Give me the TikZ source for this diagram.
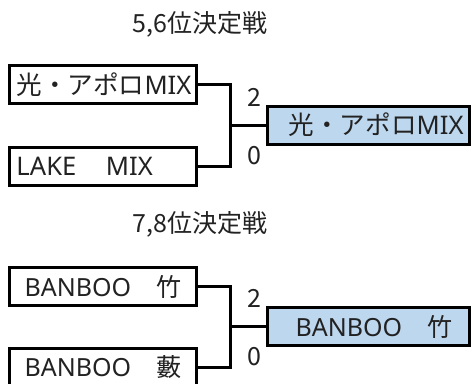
\documentclass[tikz,border=0pt]{standalone}
\usepackage{fontspec}
\setmainfont{Noto Sans}
\newfontfamily\jp{Noto Sans CJK JP}
\definecolor{winfill}{HTML}{BDD7EE}
\definecolor{ink}{HTML}{222222}
\begin{document}
\begin{tikzpicture}[x=1pt,y=-1pt,
  every node/.style={text=ink,font=\fontsize{25}{28}\selectfont},
  team/.style={draw=black,line width=3pt,minimum height=38pt,inner xsep=6pt,inner ysep=0pt,text width=175pt},
  winner/.style={team,fill=winfill,text width=190pt},
  big/.style={font=\fontsize{25.6}{28}\selectfont},
  wire/.style={draw=black,line width=3pt},
  title/.style={font=\jp\fontsize{25}{28}\selectfont},
  score/.style={inner sep=0pt,font=\jp\fontsize{25}{28}\selectfont}]
\clip (0,0) rectangle (473,383);
\fill[white] (0,0) rectangle (473,383);
% 5,6
\node[title] (t1) at (200,24) {5,6位決定戦};
\node[team,big,align=left] (a1) at (103,84.5) {\hspace*{1pt}{\jp 光・アポロ}MIX};
\node[team,big,align=left] (a2) at (103,166) {\hspace*{1pt}LAKE{\jp 　}\hspace{4pt}MIX};
\node[winner,big,align=right] (w1) at (368.5,125) {{\jp 光・アポロ}MIX};
\coordinate (j1) at (230,125);
\draw[wire] (a1.east) -| (j1) |- (a2.east);
\draw[wire] (j1) -- (w1.west);
\node[score] (s1) at (254,97) {2};
\node[score] (s2) at (254,156) {0};
% 7,8
\node[title] (t2) at (200,224) {7,8位決定戦};
\node[team,align=center] (b1) at (103,286.5) {BANBOO{\jp 　竹}};
\node[team,align=center] (b2) at (103,367.5) {BANBOO{\jp 　藪}};
\node[winner,align=center] (w2) at (368.5,326.5) {\hspace*{11pt}BANBOO{\jp 　竹}};
\coordinate (j2) at (230,326.5);
\draw[wire] (b1.east) -| (j2) |- (b2.east);
\draw[wire] (j2) -- (w2.west);
\node[score] (s3) at (254,298) {2};
\node[score] (s4) at (254,357) {0};
\end{tikzpicture}
\end{document}
